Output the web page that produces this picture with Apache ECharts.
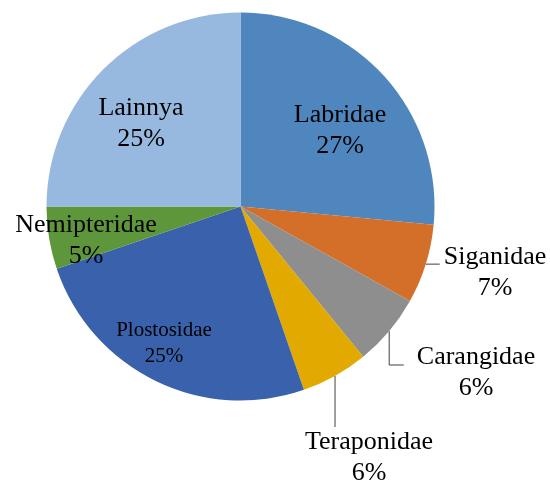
<!DOCTYPE html>
<html>
<head>
<meta charset="utf-8">
<script src="https://cdn.jsdelivr.net/npm/echarts@6/dist/echarts.min.js"></script>
<style>
  html, body { margin: 0; padding: 0; background: #fff; }
  #main { width: 550px; height: 487px; }
</style>
</head>
<body>
<div id="main"></div>
<script>
// data
var categories = ['Labridae', 'Siganidae', 'Carangidae', 'Teraponidae', 'Plostosidae', 'Nemipteridae', 'Lainnya'];
var values = [26.5, 6.6, 6.0, 5.6, 25.1, 5.2, 25.0];
var percentLabels = ['27%', '7%', '6%', '6%', '25%', '5%', '25%'];
var colors = ['#4F86BE', '#D46F2A', '#8E8E8E', '#E2A900', '#3A62AC', '#5E973B', '#97B9E0'];

// where each label sits (centre of text block) and how its leader line runs
var labelPos = [[340, 131], [495, 273], [476, 373], [369, 458], [164, 343], [86, 241], [141, 124]];
var leader = [null, 'right', 'downRight', 'down', null, null, null];

var myChart = echarts.init(document.getElementById('main'));

var data = categories.map(function (name, i) {
    return {
        name: name,
        value: values[i],
        itemStyle: { color: colors[i] },
        label: {
            position: leader[i] ? 'outside' : 'inside',
            fontSize: name === 'Plostosidae' ? 21 : 26,
            lineHeight: name === 'Plostosidae' ? 26 : 31
        },
        labelLine: { show: !!leader[i] }
    };
});

var option = {
    animation: false,
    series: [{
        type: 'pie',
        center: [240.5, 206.5],
        radius: 194,
        startAngle: 90,
        clockwise: true,
        avoidLabelOverlap: false,
        label: {
            show: true,
            color: '#000',
            fontFamily: 'Liberation Serif',
            align: 'center',
            formatter: function (p) {
                return p.name + '\n' + percentLabels[p.dataIndex];
            }
        },
        labelLine: {
            show: true,
            length: 10,
            length2: 10,
            lineStyle: { color: '#404040', width: 1 }
        },
        labelLayout: function (p) {
            var i = p.dataIndex;
            var pos = labelPos[i];
            var res = { x: pos[0], y: pos[1], align: 'center', verticalAlign: 'middle' };
            var pts = p.labelLinePoints;
            if (leader[i] && pts) {
                var s = pts[0];
                var left = pos[0] - p.labelRect.width / 2;
                var top = pos[1] - p.labelRect.height / 2;
                if (leader[i] === 'right') {
                    res.labelLinePoints = [s, [s[0], s[1]], [left - 4, s[1]]];
                } else if (leader[i] === 'downRight') {
                    var ly = top + 23;
                    res.labelLinePoints = [s, [s[0], ly], [left - 13, ly]];
                } else {
                    res.labelLinePoints = [s, [s[0], top], [s[0], top]];
                }
            }
            return res;
        },
        data: data
    }]
};
myChart.setOption(option);
window.onresize = myChart.resize;
</script>
</body>
</html>
